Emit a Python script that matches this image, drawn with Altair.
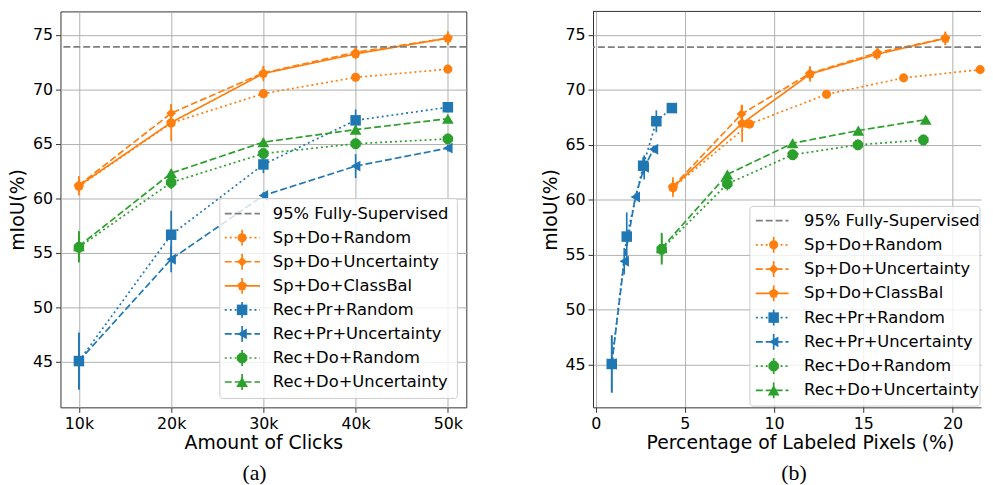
import altair as alt
import pandas as pd

# ---------------- data ----------------
series = ["Sp+Do+Random", "Sp+Do+Uncertainty", "Sp+Do+ClassBal",
          "Rec+Pr+Random", "Rec+Pr+Uncertainty", "Rec+Do+Random", "Rec+Do+Uncertainty"]
clicks_k = [10, 20, 30, 40, 50]
miou = {
    "Sp+Do+Random":       [61.1, 66.9, 69.6, 71.1, 71.85],
    "Sp+Do+Uncertainty":  [61.2, 67.8, 71.5, 73.4, 74.7],
    "Sp+Do+ClassBal":     [61.15, 66.95, 71.45, 73.25, 74.7],
    "Rec+Pr+Random":      [45.05, 56.65, 63.1, 67.15, 68.35],
    "Rec+Pr+Uncertainty": [45.05, 54.4, 60.25, 62.95, 64.6],
    "Rec+Do+Random":      [55.5, 61.45, 64.1, 65.0, 65.45],
    "Rec+Do+Uncertainty": [55.6, 62.3, 65.15, 66.3, 67.3],
}
err = {
    "Sp+Do+Random":       [0.5, 0.4, 0.3, 0.3, 0.3],
    "Sp+Do+Uncertainty":  [0.6, 0.8, 0.6, 0.5, 0.6],
    "Sp+Do+ClassBal":     [0.9, 1.7, 0.7, 0.5, 0.6],
    "Rec+Pr+Random":      [2.6, 2.2, 0.8, 1.0, 0.3],
    "Rec+Pr+Uncertainty": [2.6, 1.2, 0.3, 1.1, 0.3],
    "Rec+Do+Random":      [1.4, 0.6, 0.5, 0.5, 0.5],
    "Rec+Do+Uncertainty": [1.4, 0.3, 0.3, 0.3, 0.3],
}
pct = {
    "Sp+Do+Random":       [4.33, 8.63, 12.94, 17.26, 21.55],
    "Sp+Do+Uncertainty":  [4.33, 8.17, 12.0, 15.8, 19.6],
    "Sp+Do+ClassBal":     [4.33, 8.21, 12.02, 15.76, 19.6],
    "Rec+Pr+Random":      [0.9, 1.74, 2.66, 3.4, 4.27],
    "Rec+Pr+Uncertainty": [0.9, 1.6, 2.22, 2.72, 3.24],
    "Rec+Do+Random":      [3.7, 7.38, 11.04, 14.7, 18.37],
    "Rec+Do+Uncertainty": [3.7, 7.38, 11.04, 14.72, 18.5],
}
fully_sup_95 = 73.9
ref_name = "95% Fully-Supervised"
captions = ["(a)", "(b)"]
y_ticks = [45, 50, 55, 60, 65, 70, 75]
x_ticks_a = [10, 20, 30, 40, 50]
x_ticks_b = [0, 5, 10, 15, 20]

# ---------------- styles ----------------
ORANGE, BLUE, GREEN, GRAY = "#ff7f0e", "#1f77b4", "#2ca02c", "#7f7f7f"
FRAME = "#333333"
names = [ref_name] + series
colors = [GRAY, ORANGE, ORANGE, ORANGE, BLUE, BLUE, GREEN, GREEN]
DOT, DASH, SOLID = [2, 3], [7, 3], [1, 0]
dashes = [DASH, DOT, DASH, SOLID, DOT, DASH, DOT, DASH]
PENTAGON = "M0,-1L0.951,-0.309L0.588,0.809L-0.588,0.809L-0.951,-0.309Z"
OCTAGON = ("M0.924,0.383L0.383,0.924L-0.383,0.924L-0.924,0.383L-0.924,-0.383"
           "L-0.383,-0.924L0.383,-0.924L0.924,-0.383Z")
shapes = ["circle", "diamond", PENTAGON, "square", "triangle-left", OCTAGON, "triangle-up"]
sizes = [85, 140, 80, 80, 100, 85, 100]

color_scale = alt.Scale(domain=names, range=colors)
dash_scale = alt.Scale(domain=names, range=dashes)
shape_scale = alt.Scale(domain=series, range=shapes)
size_scale = alt.Scale(domain=series, range=sizes)

rows = []
for s in series:
    for i, c in enumerate(clicks_k):
        m, e = miou[s][i], err[s][i]
        rows.append(dict(series=s, clicks=c, pct=pct[s][i], miou=m, lo=m - e, hi=m + e))
df = pd.DataFrame(rows)

FONT = "DejaVu Sans"
LW = 1.7


def legend_layers(box, row0, step, hx0, hx1, mx, tx):
    leg = pd.DataFrame({"name": names})
    leg["ly"] = [row0 + i * step for i in range(len(names))]
    leg["ly0"] = leg["ly"] - 8
    leg["ly1"] = leg["ly"] + 8
    leg_s = leg[leg["name"] != ref_name]
    ypix = alt.Y("ly:Q", scale=None, axis=None)
    boxl = alt.Chart(pd.DataFrame({"b": [0]})).mark_rect(
        fill="white", fillOpacity=0.8, stroke="#cccccc", strokeWidth=1, cornerRadius=3
    ).encode(x=alt.value(box[0]), x2=alt.value(box[1]), y=alt.value(box[2]), y2=alt.value(box[3]))
    lines = alt.Chart(leg).mark_rule(strokeWidth=LW).encode(
        x=alt.value(hx0), x2=alt.value(hx1), y=ypix,
        color=alt.Color("name:N", scale=color_scale, legend=None),
        strokeDash=alt.StrokeDash("name:N", scale=dash_scale, legend=None))
    bars = alt.Chart(leg_s).mark_rule(strokeWidth=LW).encode(
        x=alt.value(mx), y=alt.Y("ly0:Q", scale=None, axis=None), y2="ly1:Q",
        color=alt.Color("name:N", scale=color_scale, legend=None))
    pts = alt.Chart(leg_s).mark_point(filled=True, opacity=1).encode(
        x=alt.value(mx), y=ypix,
        color=alt.Color("name:N", scale=color_scale, legend=None),
        shape=alt.Shape("name:N", scale=shape_scale, legend=None),
        size=alt.Size("name:N", scale=size_scale, legend=None))
    txt = alt.Chart(leg).mark_text(align="left", baseline="middle", fontSize=16.5,
                                   font=FONT, color="black").encode(
        x=alt.value(tx), y=ypix, text="name:N")
    return alt.layer(boxl, lines, bars, pts, txt)


def panel(xfield, xdomain, xticks, xtitle, width, ydomain, label_expr, caption, cap_x,
          legend_args, title_x=None, frame_top=False):
    xaxis = alt.Axis(values=xticks, title=xtitle, labelExpr=label_expr, grid=True,
                     domain=frame_top, **({"titleX": title_x} if title_x is not None else {}))
    X = alt.X(f"{xfield}:Q", scale=alt.Scale(domain=xdomain, nice=False, zero=False), axis=xaxis)
    Y = alt.Y("miou:Q", scale=alt.Scale(domain=ydomain, nice=False, zero=False),
              axis=alt.Axis(values=y_ticks, title="mIoU(%)", grid=True, domain=frame_top))
    base = alt.Chart(df)
    ref = alt.Chart(pd.DataFrame({"v": [fully_sup_95]})).mark_rule(
        color=GRAY, strokeWidth=LW, strokeDash=DASH).encode(y=alt.Y("v:Q"))
    line = base.mark_line(strokeWidth=LW).encode(
        x=X, y=Y,
        color=alt.Color("series:N", scale=color_scale, legend=None),
        strokeDash=alt.StrokeDash("series:N", scale=dash_scale, legend=None),
        order=alt.Order("clicks:Q"))
    ebar = base.mark_rule(strokeWidth=LW).encode(
        x=X, y=alt.Y("lo:Q"), y2="hi:Q",
        color=alt.Color("series:N", scale=color_scale, legend=None))
    pts = base.mark_point(filled=True, opacity=1).encode(
        x=X, y=Y,
        color=alt.Color("series:N", scale=color_scale, legend=None),
        shape=alt.Shape("series:N", scale=shape_scale, legend=None),
        size=alt.Size("series:N", scale=size_scale, legend=None))
    main = alt.layer(line, ebar, pts, ref)
    cap = alt.Chart(pd.DataFrame({"c": [caption]})).mark_text(
        font="Liberation Serif", fontSize=22, color="black", baseline="middle"
    ).encode(x=alt.value(cap_x), y=alt.value(466), text="c:N")
    extra = [legend_layers(*legend_args), cap]
    if frame_top:
        top = alt.Chart(pd.DataFrame({"t": [0]})).mark_rule(color=FRAME, strokeWidth=1).encode(
            x=alt.value(0), x2=alt.value(width), y=alt.value(0))
        extra.append(top)
    ch = alt.layer(main, *extra).resolve_scale(x="independent", y="independent").properties(
        width=width, height=400)
    if frame_top:
        ch = ch.properties(view=alt.ViewBackground(stroke=None))
    return ch


left = panel("clicks", [8, 52], x_ticks_a, "Amount of Clicks", 410, [40.8, 77.15],
             "datum.value + 'k'", captions[0], 196,
             ((161, 401, 189, 391), 204.3, 24.3, 166, 201.5, 183.5, 214.5))
right = panel("pct", [-0.15, 21.6], x_ticks_b, "Percentage of Labeled Pixels (%)", 392,
              [41.1, 77.15], "datum.label", captions[1], 203,
              ((158.5, 391, 197, 398.7), 211.3, 24.5, 164.5, 197.5, 182.5, 213.2),
              title_x=209, frame_top=True)

chart = alt.hconcat(left, right, spacing=73).properties(padding=0).configure_view(
    stroke=FRAME, strokeWidth=1
).configure_axis(
    labelFont=FONT, titleFont=FONT, labelFontSize=16, titleFontSize=19,
    titleFontWeight="normal", labelColor="black", titleColor="black",
    gridColor="#b0b0b0", gridWidth=1, tickColor=FRAME, tickSize=5, labelPadding=3,
    domainColor=FRAME, titlePadding=5
).configure_axisX(titlePadding=3)

chart.save("out.html", embed_options={"renderer": "svg", "actions": False})
